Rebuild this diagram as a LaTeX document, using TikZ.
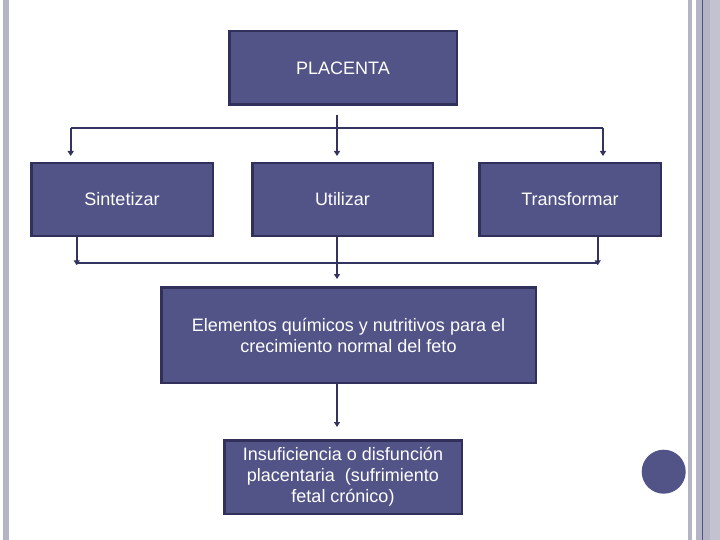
\documentclass[tikz,border=0pt]{standalone}
\usepackage{fontspec}
\setmainfont{Liberation Sans}
\usetikzlibrary{arrows.meta}
\definecolor{boxfill}{HTML}{525488}
\definecolor{boxline}{HTML}{30305A}
\definecolor{wirecol}{HTML}{33335F}
\definecolor{barcol}{HTML}{B4B4C4}
\definecolor{barlight}{HTML}{C2C2D0}
\definecolor{barblue}{HTML}{505488}
\begin{document}
\begin{tikzpicture}[x=1pt,y=-1pt,
  box/.style={draw=boxline,line width=2.5pt,fill=boxfill,text=white,
    font=\fontsize{18}{21}\selectfont,align=center,inner sep=0pt},
  wire/.style={draw=wirecol,line width=1.8pt},
  arr/.style={wire,-{Triangle[width=6pt,length=5pt]}}]
\useasboundingbox (0,0) rectangle (720,540);
\fill[white] (0,0) rectangle (720,540);
% side bars
\fill[barcol] (3,0) rectangle (9,540);
\fill[barcol] (688,0) rectangle (692,540);
\fill[barcol] (696,0) rectangle (710,540);
\fill[barlight] (710,0) rectangle (720,540);
\fill[barblue] (702,0) rectangle (703,540);
% circle
\fill[boxfill] (663.7,471.7) circle (22);
% boxes
\node[box,minimum width=227.5pt,minimum height=73.5pt] (p) at (343,68) {PLACENTA};
\node[box,minimum width=181.5pt,minimum height=72.5pt] (s) at (122,199.5) {Sintetizar};
\node[box,minimum width=180.5pt,minimum height=72.5pt] (u) at (342.5,199.5) {Utilizar};
\node[box,minimum width=181.5pt,minimum height=72.5pt] (t) at (570,199.5) {Transformar};
\node[box,minimum width=374.5pt,minimum height=95.5pt] (e) at (348.5,335) {Elementos químicos y nutritivos para el\\crecimiento normal del feto};
\node[box,minimum width=237.5pt,minimum height=73.5pt] (i) at (343,477) {Insuficiencia o disfunción\\placentaria\ \ (sufrimiento\\fetal crónico)};
% connectors
\coordinate (tc) at (337,115);
\coordinate (tbL) at (70.7,127.7);
\coordinate (tbR) at (603,127.7);
\draw[wire] (tbL) -- (tbR);
\draw[arr,shorten >=6pt] (tc) -- (tc |- u.north);
\draw[arr,shorten >=6pt] (tbL) -- (tbL |- s.north);
\draw[arr,shorten >=6pt] (tbR) -- (tbR |- t.north);
\coordinate (bbL) at (76.7,263.3);
\coordinate (bbR) at (597.7,263.3);
\draw[wire] (bbL) -- (bbR);
\draw[arr,shorten >=-2pt] (bbL |- s.south) -- (bbL);
\draw[arr,shorten >=-2pt] (bbR |- t.south) -- (bbR);
\draw[arr,shorten >=7pt] (tc |- u.south) -- (tc |- e.north);
\draw[arr,shorten >=12pt] (tc |- e.south) -- (tc |- i.north);
\end{tikzpicture}
\end{document}
